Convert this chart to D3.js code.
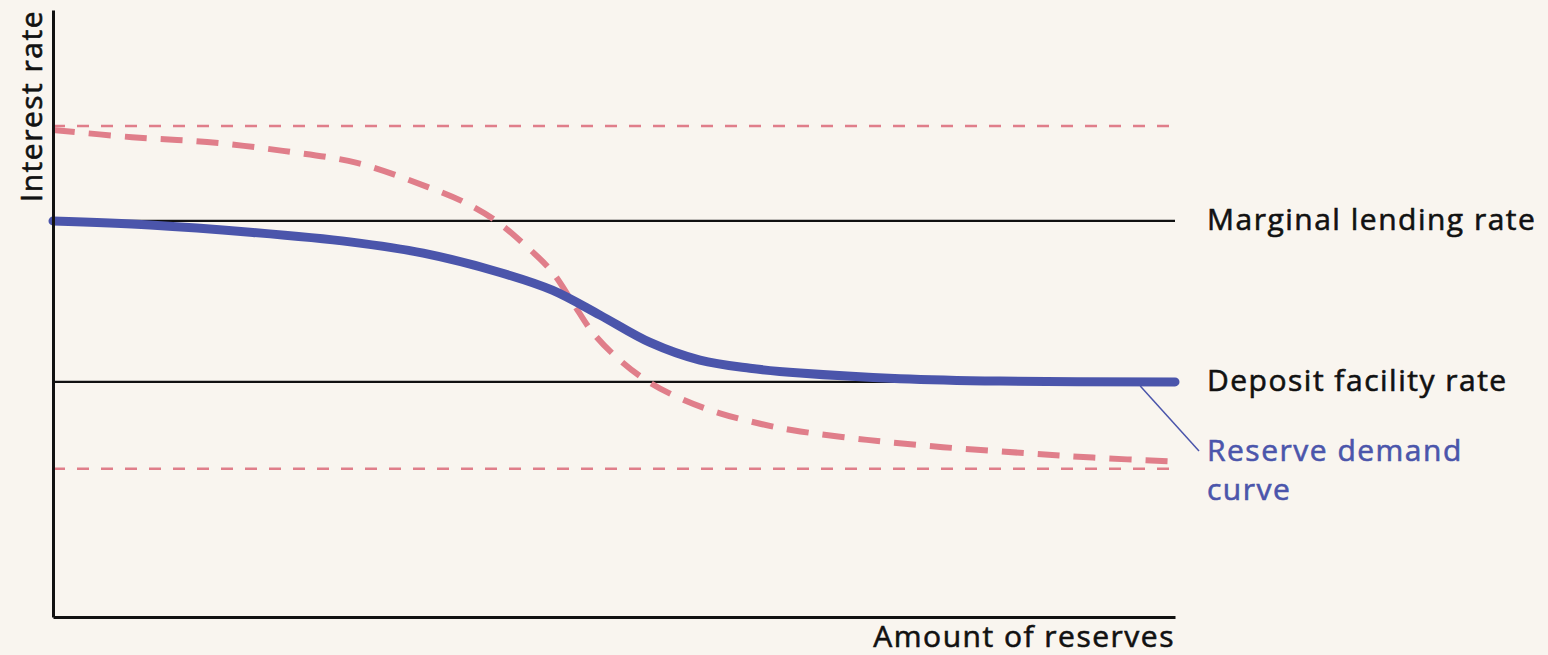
<!DOCTYPE html>
<html><head><meta charset="utf-8">
<script src="https://cdn.jsdelivr.net/npm/d3@7"></script>
<style>html,body{margin:0;padding:0;background:#f9f5ef;}svg{display:block;}</style>
</head><body>
<svg id="chart" width="1548" height="655"></svg>
<script>
// Reserve demand curve (solid blue), x = amount of reserves (0-100), y = interest rate
const demandX = [0, 8.65, 17.56, 26.47, 33.0, 39.84, 44.5, 48.75, 53.21, 57.66, 62.12, 66.58, 75.49, 84.40, 100];
const demandY = [4.0, 3.95, 3.86, 3.74, 3.60, 3.36, 3.14, 2.83, 2.49, 2.27, 2.17, 2.11, 2.04, 2.01, 2.0];
// Alternative demand curve (thick pink dashed)
const altX = [0, 7.04, 13.73, 20.50, 27.09, 33.42, 36.54, 39.39, 42.07, 44.47, 46.35, 48.13, 50.53, 53.21, 56.15, 59.45, 62.75, 65.95, 72.55, 79.32, 86.19, 92.69, 100];
const altY = [5.13, 5.04, 4.98, 4.87, 4.72, 4.42, 4.24, 4.01, 3.70, 3.37, 2.98, 2.61, 2.27, 1.99, 1.78, 1.61, 1.49, 1.40, 1.28, 1.19, 1.12, 1.06, 1.01];
// Horizontal rate levels
const rateNames = ["Marginal lending rate", "Deposit facility rate"];
const rateValues = [4.0, 2.0];
const altRateValues = [5.18, 0.92];
const demandLabel = ["Reserve demand", "curve"];
const xTitle = "Amount of reserves";
const yTitle = "Interest rate";

const svg = d3.select("#chart");
const x = d3.scaleLinear().domain([0, 100]).range([53, 1175]);
const y = d3.scaleLinear().domain([-0.92, 6.62]).range([617, 10]);
const font = "'Open Sans', sans-serif";
const fs = 30, ls = 1.5;
const blue = "#4b55ab", pink = "#e07e8a", ink = "#111";

// thin dashed pink levels
svg.selectAll(".altRate").data(altRateValues).join("line")
  .attr("x1", x(0)).attr("x2", x(100)).attr("y1", d => y(d)).attr("y2", d => y(d))
  .attr("stroke", pink).attr("stroke-width", 2.5).attr("stroke-dasharray", "12,12");

// black rate lines
svg.selectAll(".rate").data(rateValues).join("line")
  .attr("x1", x(0)).attr("x2", x(100)).attr("y1", d => y(d)).attr("y2", d => y(d))
  .attr("stroke", ink).attr("stroke-width", 2.2);

const line = d3.line().x(d => x(d[0])).y(d => y(d[1])).curve(d3.curveCatmullRom.alpha(0.5));

// pink dashed curve
svg.append("path").datum(d3.zip(altX, altY)).attr("d", line)
  .attr("fill", "none").attr("stroke", pink).attr("stroke-width", 6)
  .attr("stroke-dasharray", "22,14");

// blue curve
svg.append("path").datum(d3.zip(demandX, demandY)).attr("d", line)
  .attr("fill", "none").attr("stroke", blue).attr("stroke-width", 9)
  .attr("stroke-linecap", "round");

// axes
const xAxis = d3.axisBottom(x).tickValues([]).tickSizeOuter(0);
const yAxis = d3.axisLeft(y).tickValues([]).tickSizeOuter(0);
svg.append("g").attr("transform", `translate(0,${y(-0.92)})`).call(xAxis)
  .select(".domain").attr("stroke", ink).attr("stroke-width", 3);
svg.append("g").attr("transform", `translate(${x(0)},0)`).call(yAxis)
  .select(".domain").attr("stroke", ink).attr("stroke-width", 3);

function styleText(sel, color) {
  return sel.attr("font-family", font).attr("font-size", fs).attr("font-weight", 400)
    .attr("letter-spacing", ls).attr("fill", color)
    .attr("stroke", color).attr("stroke-width", 0.6);
}

// rate labels
styleText(svg.selectAll(".rateLabel").data(rateNames).join("text"), ink)
  .attr("x", 1207).attr("y", (d, i) => y(rateValues[i]) + 9).text(d => d);

// annotation leader
svg.append("line").attr("x1", x(96.9)).attr("y1", y(2.0) + 4).attr("x2", 1199).attr("y2", 451)
  .attr("stroke", blue).attr("stroke-width", 1.5);
styleText(svg.append("text"), blue)
  .selectAll("tspan").data(demandLabel).join("tspan")
  .attr("x", 1207).attr("y", (d, i) => 461 + i * 39).text(d => d);

// axis titles
styleText(svg.append("text"), ink).attr("x", 1175).attr("y", 647).attr("text-anchor", "end").text(xTitle);
styleText(svg.append("text"), ink).attr("transform", "translate(42,10) rotate(-90)")
  .attr("text-anchor", "end").text(yTitle);
</script>
</body></html>
